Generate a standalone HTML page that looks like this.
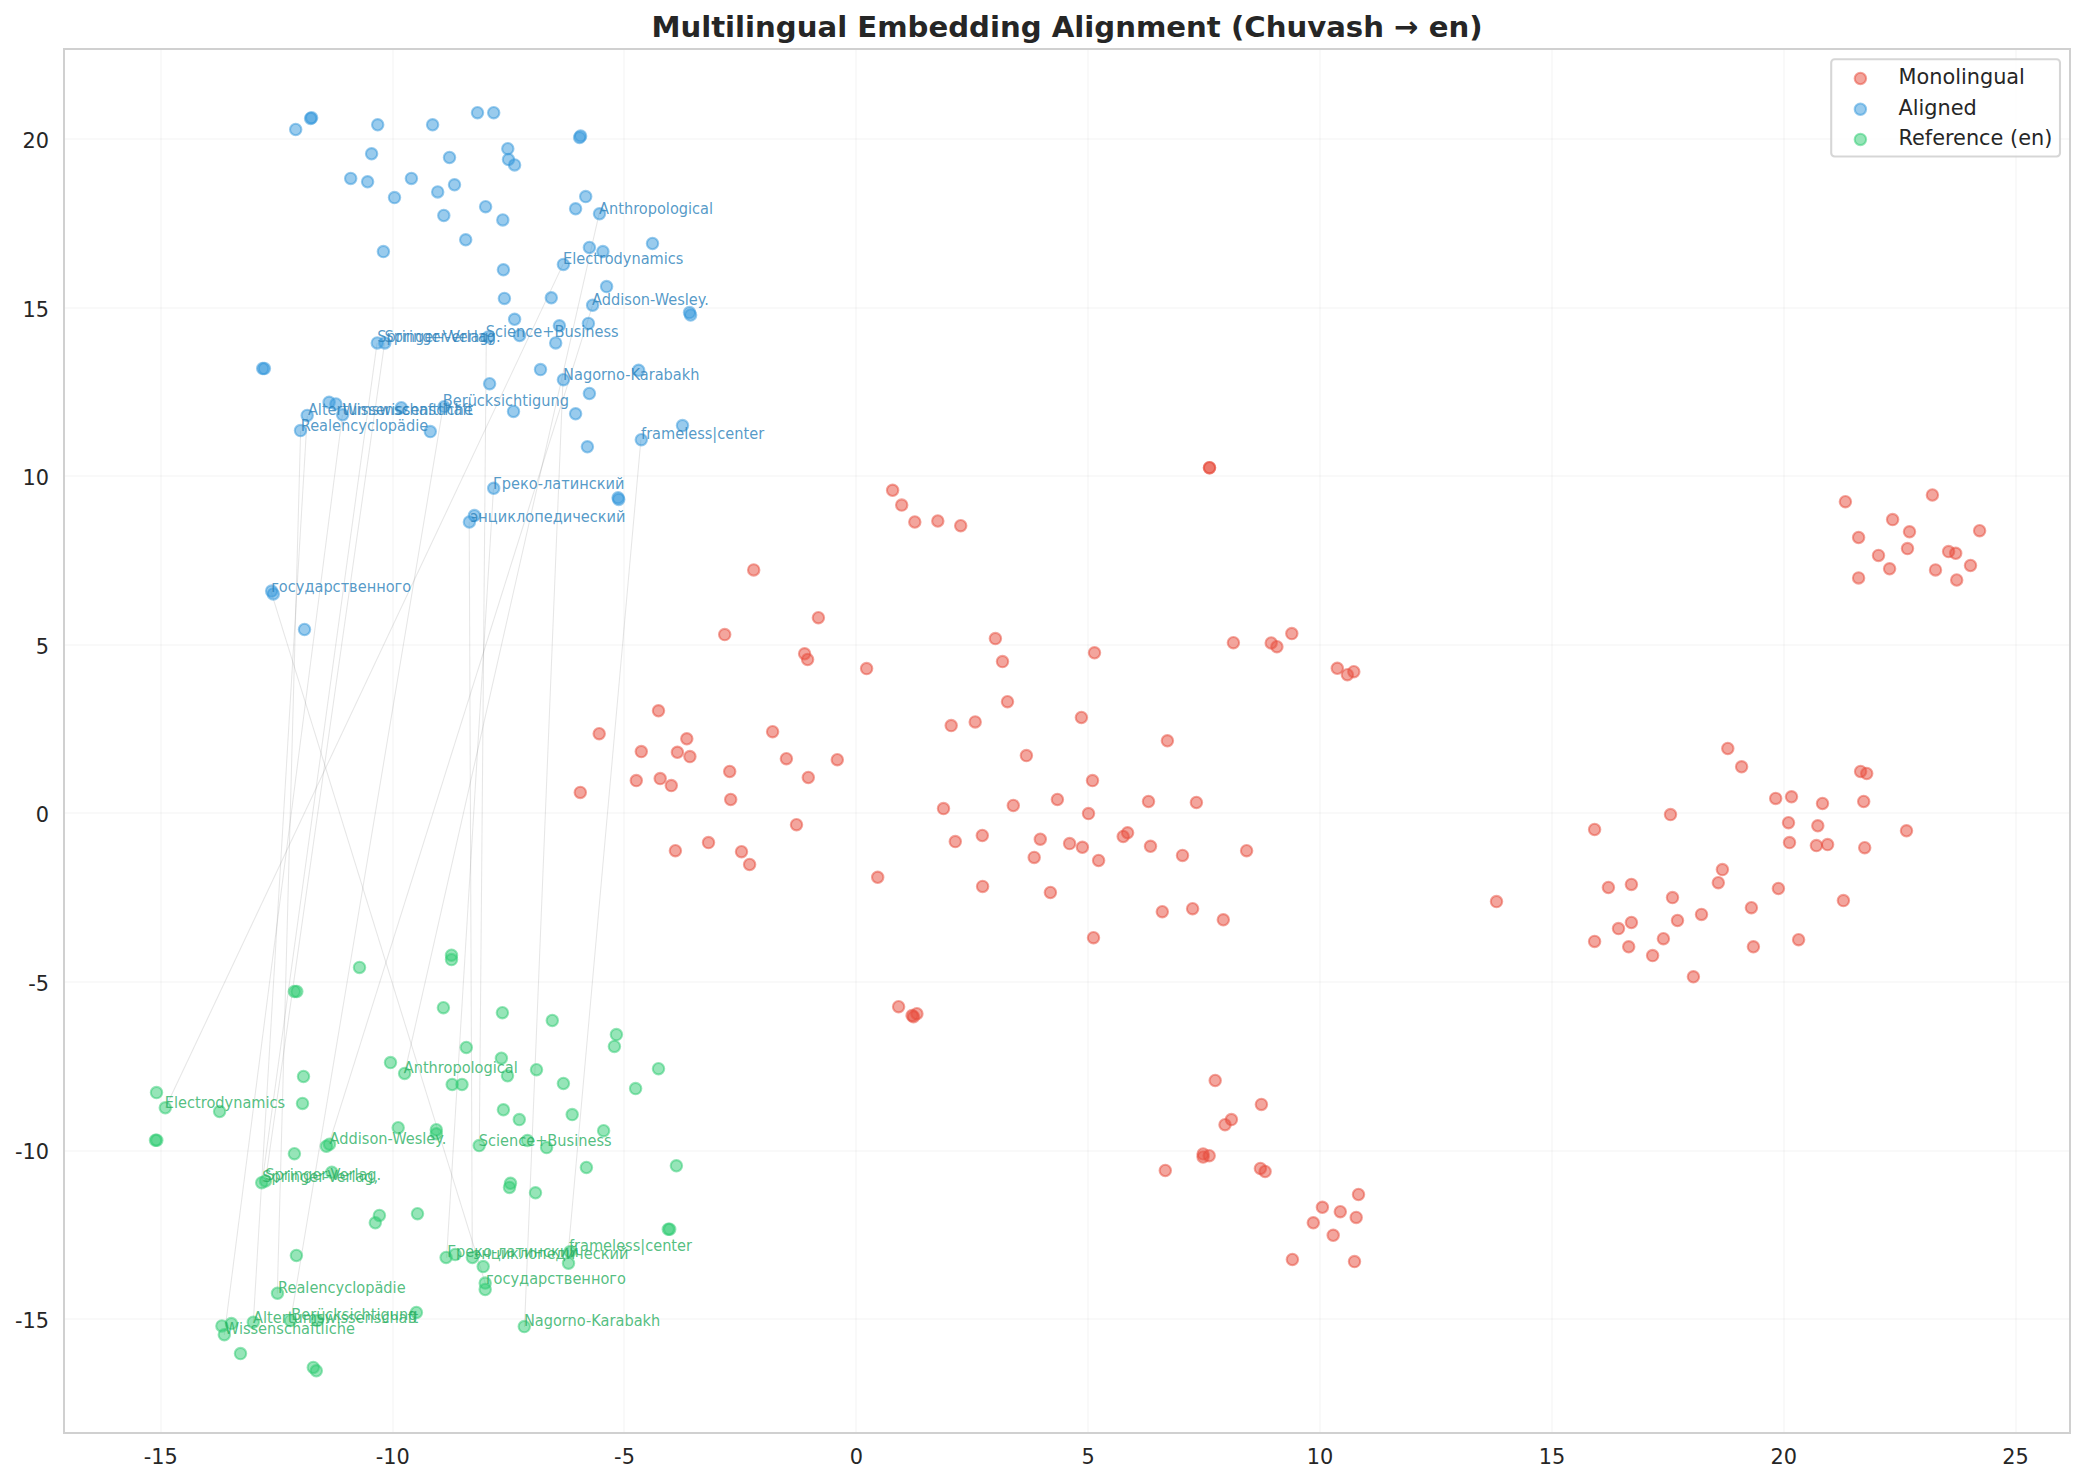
<!DOCTYPE html>
<html><head><meta charset="utf-8"><title>Multilingual Embedding Alignment</title>
<style>html,body{margin:0;padding:0;background:#fff}body{width:2085px;height:1483px;overflow:hidden}</style></head>
<body>
<svg width="2085" height="1483" viewBox="0 0 2085 1483" style="display:block;font-family:'DejaVu Sans','Liberation Sans',sans-serif">
<rect width="2085" height="1483" fill="#fff"/>
<g stroke="#cccccc" stroke-opacity=".11" stroke-width="2">
<line x1="161" y1="49.0" x2="161" y2="1433.0"/>
<line x1="393" y1="49.0" x2="393" y2="1433.0"/>
<line x1="624" y1="49.0" x2="624" y2="1433.0"/>
<line x1="856" y1="49.0" x2="856" y2="1433.0"/>
<line x1="1088" y1="49.0" x2="1088" y2="1433.0"/>
<line x1="1320" y1="49.0" x2="1320" y2="1433.0"/>
<line x1="1552" y1="49.0" x2="1552" y2="1433.0"/>
<line x1="1784" y1="49.0" x2="1784" y2="1433.0"/>
<line x1="2016" y1="49.0" x2="2016" y2="1433.0"/>
<line x1="64.0" y1="139" x2="2070.0" y2="139"/>
<line x1="64.0" y1="308" x2="2070.0" y2="308"/>
<line x1="64.0" y1="476" x2="2070.0" y2="476"/>
<line x1="64.0" y1="645" x2="2070.0" y2="645"/>
<line x1="64.0" y1="813" x2="2070.0" y2="813"/>
<line x1="64.0" y1="982" x2="2070.0" y2="982"/>
<line x1="64.0" y1="1151" x2="2070.0" y2="1151"/>
<line x1="64.0" y1="1319" x2="2070.0" y2="1319"/>
</g>
<g stroke="#808080" stroke-opacity="0.2" stroke-width="1.04" fill="none">
<line x1="599.1" y1="213.8" x2="404.4" y2="1073.9"/>
<line x1="563.0" y1="264.4" x2="165.5" y2="1107.8"/>
<line x1="592.4" y1="305.9" x2="328.8" y2="1144.3"/>
<line x1="486.3" y1="337.8" x2="479.3" y2="1145.9"/>
<line x1="377.1" y1="342.9" x2="262.1" y2="1182.7"/>
<line x1="384.6" y1="342.9" x2="265.4" y2="1181.3"/>
<line x1="563.0" y1="379.7" x2="524.5" y2="1326.9"/>
<line x1="443.1" y1="406.7" x2="290.6" y2="1320.7"/>
<line x1="307.3" y1="415.7" x2="253.3" y2="1322.5"/>
<line x1="342.4" y1="415.0" x2="224.3" y2="1335.0"/>
<line x1="300.6" y1="430.8" x2="277.3" y2="1293.6"/>
<line x1="640.9" y1="439.7" x2="568.4" y2="1250.3"/>
<line x1="493.5" y1="488.6" x2="446.6" y2="1257.9"/>
<line x1="469.2" y1="521.8" x2="472.3" y2="1258.4"/>
<line x1="270.9" y1="591.2" x2="485.4" y2="1283.6"/>
</g>
<g fill="#e74c3c" fill-opacity=".5" stroke="#e74c3c" stroke-opacity=".5" stroke-width="2.08">
<circle cx="658.5" cy="710.8" r="5.7"/>
<circle cx="599.2" cy="733.7" r="5.7"/>
<circle cx="686.8" cy="738.8" r="5.7"/>
<circle cx="641.3" cy="751.6" r="5.7"/>
<circle cx="677.4" cy="752.3" r="5.7"/>
<circle cx="689.9" cy="756.6" r="5.7"/>
<circle cx="636.3" cy="780.6" r="5.7"/>
<circle cx="660.2" cy="778.6" r="5.7"/>
<circle cx="671.3" cy="785.6" r="5.7"/>
<circle cx="580.3" cy="792.4" r="5.7"/>
<circle cx="675.4" cy="850.7" r="5.7"/>
<circle cx="1209.5" cy="467.7" r="5.7"/>
<circle cx="1209.5" cy="467.7" r="5.7"/>
<circle cx="892.6" cy="490.3" r="5.7"/>
<circle cx="901.7" cy="505.1" r="5.7"/>
<circle cx="914.8" cy="522.0" r="5.7"/>
<circle cx="937.8" cy="521.0" r="5.7"/>
<circle cx="960.7" cy="525.7" r="5.7"/>
<circle cx="753.7" cy="569.9" r="5.7"/>
<circle cx="818.4" cy="617.7" r="5.7"/>
<circle cx="724.7" cy="634.6" r="5.7"/>
<circle cx="804.6" cy="653.8" r="5.7"/>
<circle cx="807.6" cy="659.5" r="5.7"/>
<circle cx="866.6" cy="668.6" r="5.7"/>
<circle cx="995.4" cy="638.6" r="5.7"/>
<circle cx="1002.5" cy="661.6" r="5.7"/>
<circle cx="1094.5" cy="652.8" r="5.7"/>
<circle cx="1233.4" cy="642.7" r="5.7"/>
<circle cx="1271.2" cy="643.0" r="5.7"/>
<circle cx="1276.9" cy="646.7" r="5.7"/>
<circle cx="1291.8" cy="633.6" r="5.7"/>
<circle cx="1337.3" cy="668.3" r="5.7"/>
<circle cx="1347.4" cy="674.7" r="5.7"/>
<circle cx="1353.8" cy="671.7" r="5.7"/>
<circle cx="1007.5" cy="701.7" r="5.7"/>
<circle cx="1081.4" cy="717.5" r="5.7"/>
<circle cx="975.2" cy="721.9" r="5.7"/>
<circle cx="951.2" cy="725.6" r="5.7"/>
<circle cx="772.6" cy="731.7" r="5.7"/>
<circle cx="1167.4" cy="740.8" r="5.7"/>
<circle cx="1026.4" cy="755.6" r="5.7"/>
<circle cx="786.4" cy="758.7" r="5.7"/>
<circle cx="837.3" cy="759.7" r="5.7"/>
<circle cx="729.7" cy="771.5" r="5.7"/>
<circle cx="808.3" cy="777.5" r="5.7"/>
<circle cx="1092.5" cy="780.6" r="5.7"/>
<circle cx="730.7" cy="799.5" r="5.7"/>
<circle cx="1057.4" cy="799.5" r="5.7"/>
<circle cx="1148.5" cy="801.5" r="5.7"/>
<circle cx="1196.4" cy="802.5" r="5.7"/>
<circle cx="1013.3" cy="805.5" r="5.7"/>
<circle cx="943.5" cy="808.6" r="5.7"/>
<circle cx="1088.5" cy="813.6" r="5.7"/>
<circle cx="796.5" cy="824.7" r="5.7"/>
<circle cx="1127.6" cy="832.8" r="5.7"/>
<circle cx="1123.2" cy="836.5" r="5.7"/>
<circle cx="982.3" cy="835.5" r="5.7"/>
<circle cx="1040.3" cy="839.2" r="5.7"/>
<circle cx="955.3" cy="841.6" r="5.7"/>
<circle cx="708.5" cy="842.6" r="5.7"/>
<circle cx="1069.6" cy="843.6" r="5.7"/>
<circle cx="1082.4" cy="847.3" r="5.7"/>
<circle cx="1150.5" cy="846.3" r="5.7"/>
<circle cx="741.5" cy="851.7" r="5.7"/>
<circle cx="1246.6" cy="850.7" r="5.7"/>
<circle cx="1182.5" cy="855.4" r="5.7"/>
<circle cx="1034.2" cy="857.4" r="5.7"/>
<circle cx="1098.6" cy="860.5" r="5.7"/>
<circle cx="749.6" cy="864.5" r="5.7"/>
<circle cx="877.7" cy="877.3" r="5.7"/>
<circle cx="982.6" cy="886.4" r="5.7"/>
<circle cx="1050.4" cy="892.5" r="5.7"/>
<circle cx="1162.3" cy="911.7" r="5.7"/>
<circle cx="1192.6" cy="908.7" r="5.7"/>
<circle cx="1223.3" cy="919.8" r="5.7"/>
<circle cx="1093.5" cy="937.7" r="5.7"/>
<circle cx="1845.4" cy="501.7" r="5.7"/>
<circle cx="1932.4" cy="495.0" r="5.7"/>
<circle cx="1892.6" cy="519.6" r="5.7"/>
<circle cx="1909.5" cy="531.8" r="5.7"/>
<circle cx="1979.6" cy="530.7" r="5.7"/>
<circle cx="1858.6" cy="537.5" r="5.7"/>
<circle cx="1907.5" cy="548.6" r="5.7"/>
<circle cx="1878.5" cy="555.4" r="5.7"/>
<circle cx="1948.6" cy="551.6" r="5.7"/>
<circle cx="1955.7" cy="553.3" r="5.7"/>
<circle cx="1970.5" cy="565.5" r="5.7"/>
<circle cx="1889.6" cy="568.8" r="5.7"/>
<circle cx="1935.5" cy="569.9" r="5.7"/>
<circle cx="1858.6" cy="577.9" r="5.7"/>
<circle cx="1956.7" cy="580.0" r="5.7"/>
<circle cx="1727.8" cy="748.5" r="5.7"/>
<circle cx="1741.6" cy="766.8" r="5.7"/>
<circle cx="1860.6" cy="771.5" r="5.7"/>
<circle cx="1866.7" cy="773.5" r="5.7"/>
<circle cx="1775.7" cy="798.4" r="5.7"/>
<circle cx="1791.5" cy="796.8" r="5.7"/>
<circle cx="1822.5" cy="803.5" r="5.7"/>
<circle cx="1863.7" cy="801.5" r="5.7"/>
<circle cx="1670.5" cy="814.6" r="5.7"/>
<circle cx="1594.6" cy="829.5" r="5.7"/>
<circle cx="1788.5" cy="822.7" r="5.7"/>
<circle cx="1817.8" cy="825.8" r="5.7"/>
<circle cx="1906.5" cy="830.8" r="5.7"/>
<circle cx="1789.5" cy="842.6" r="5.7"/>
<circle cx="1816.4" cy="845.6" r="5.7"/>
<circle cx="1827.6" cy="844.6" r="5.7"/>
<circle cx="1864.7" cy="847.7" r="5.7"/>
<circle cx="1722.4" cy="869.6" r="5.7"/>
<circle cx="1718.3" cy="882.7" r="5.7"/>
<circle cx="1608.4" cy="887.5" r="5.7"/>
<circle cx="1631.4" cy="884.4" r="5.7"/>
<circle cx="1778.4" cy="888.5" r="5.7"/>
<circle cx="1672.5" cy="897.6" r="5.7"/>
<circle cx="1496.5" cy="901.6" r="5.7"/>
<circle cx="1843.4" cy="900.6" r="5.7"/>
<circle cx="1751.4" cy="907.7" r="5.7"/>
<circle cx="1701.5" cy="914.4" r="5.7"/>
<circle cx="1677.5" cy="920.5" r="5.7"/>
<circle cx="1631.4" cy="922.5" r="5.7"/>
<circle cx="1618.5" cy="928.6" r="5.7"/>
<circle cx="1663.4" cy="938.7" r="5.7"/>
<circle cx="1594.6" cy="941.4" r="5.7"/>
<circle cx="1798.6" cy="939.7" r="5.7"/>
<circle cx="1628.7" cy="946.8" r="5.7"/>
<circle cx="1753.4" cy="946.8" r="5.7"/>
<circle cx="1652.6" cy="955.6" r="5.7"/>
<circle cx="1693.4" cy="976.8" r="5.7"/>
<circle cx="898.6" cy="1006.7" r="5.7"/>
<circle cx="912.1" cy="1015.4" r="5.7"/>
<circle cx="913.5" cy="1016.8" r="5.7"/>
<circle cx="916.9" cy="1013.7" r="5.7"/>
<circle cx="1215.2" cy="1080.5" r="5.7"/>
<circle cx="1261.4" cy="1104.4" r="5.7"/>
<circle cx="1231.4" cy="1119.6" r="5.7"/>
<circle cx="1225.0" cy="1124.7" r="5.7"/>
<circle cx="1203.1" cy="1154.0" r="5.7"/>
<circle cx="1203.1" cy="1157.0" r="5.7"/>
<circle cx="1209.2" cy="1155.7" r="5.7"/>
<circle cx="1165.3" cy="1170.5" r="5.7"/>
<circle cx="1260.4" cy="1168.5" r="5.7"/>
<circle cx="1265.1" cy="1171.5" r="5.7"/>
<circle cx="1358.5" cy="1194.5" r="5.7"/>
<circle cx="1322.4" cy="1207.3" r="5.7"/>
<circle cx="1340.3" cy="1211.7" r="5.7"/>
<circle cx="1356.2" cy="1217.4" r="5.7"/>
<circle cx="1313.3" cy="1222.8" r="5.7"/>
<circle cx="1333.2" cy="1235.3" r="5.7"/>
<circle cx="1292.4" cy="1259.5" r="5.7"/>
<circle cx="1354.5" cy="1261.6" r="5.7"/>
</g>
<g fill="#3498db" fill-opacity=".5" stroke="#3498db" stroke-opacity=".5" stroke-width="2.08">
<circle cx="295.7" cy="129.5" r="5.7"/>
<circle cx="310.6" cy="118.4" r="5.7"/>
<circle cx="311.6" cy="117.7" r="5.7"/>
<circle cx="377.7" cy="124.8" r="5.7"/>
<circle cx="432.6" cy="124.8" r="5.7"/>
<circle cx="477.5" cy="112.7" r="5.7"/>
<circle cx="493.7" cy="112.7" r="5.7"/>
<circle cx="579.6" cy="137.6" r="5.7"/>
<circle cx="580.6" cy="135.9" r="5.7"/>
<circle cx="371.6" cy="153.8" r="5.7"/>
<circle cx="449.5" cy="157.5" r="5.7"/>
<circle cx="507.8" cy="148.7" r="5.7"/>
<circle cx="508.5" cy="159.5" r="5.7"/>
<circle cx="514.6" cy="164.9" r="5.7"/>
<circle cx="350.7" cy="178.4" r="5.7"/>
<circle cx="367.6" cy="181.8" r="5.7"/>
<circle cx="411.4" cy="178.4" r="5.7"/>
<circle cx="454.5" cy="184.8" r="5.7"/>
<circle cx="437.7" cy="191.9" r="5.7"/>
<circle cx="394.5" cy="197.6" r="5.7"/>
<circle cx="585.7" cy="196.6" r="5.7"/>
<circle cx="575.6" cy="208.8" r="5.7"/>
<circle cx="599.5" cy="213.8" r="5.7"/>
<circle cx="485.6" cy="206.7" r="5.7"/>
<circle cx="443.8" cy="215.5" r="5.7"/>
<circle cx="502.8" cy="219.9" r="5.7"/>
<circle cx="465.7" cy="239.8" r="5.7"/>
<circle cx="383.4" cy="251.6" r="5.7"/>
<circle cx="589.4" cy="247.5" r="5.7"/>
<circle cx="602.9" cy="251.6" r="5.7"/>
<circle cx="652.5" cy="243.5" r="5.7"/>
<circle cx="563.4" cy="264.4" r="5.7"/>
<circle cx="503.4" cy="269.8" r="5.7"/>
<circle cx="606.6" cy="286.6" r="5.7"/>
<circle cx="504.4" cy="298.4" r="5.7"/>
<circle cx="551.3" cy="297.8" r="5.7"/>
<circle cx="592.6" cy="305.2" r="5.7"/>
<circle cx="689.5" cy="312.6" r="5.7"/>
<circle cx="690.6" cy="315.0" r="5.7"/>
<circle cx="514.6" cy="319.3" r="5.7"/>
<circle cx="559.4" cy="325.8" r="5.7"/>
<circle cx="588.4" cy="323.4" r="5.7"/>
<circle cx="519.6" cy="335.5" r="5.7"/>
<circle cx="488.3" cy="336.9" r="5.7"/>
<circle cx="555.7" cy="342.9" r="5.7"/>
<circle cx="377.3" cy="342.9" r="5.7"/>
<circle cx="384.8" cy="342.9" r="5.7"/>
<circle cx="262.7" cy="368.6" r="5.7"/>
<circle cx="264.4" cy="368.6" r="5.7"/>
<circle cx="540.5" cy="369.6" r="5.7"/>
<circle cx="638.6" cy="370.3" r="5.7"/>
<circle cx="563.4" cy="379.7" r="5.7"/>
<circle cx="489.6" cy="383.7" r="5.7"/>
<circle cx="589.4" cy="393.5" r="5.7"/>
<circle cx="329.1" cy="402.3" r="5.7"/>
<circle cx="335.9" cy="404.0" r="5.7"/>
<circle cx="401.3" cy="407.7" r="5.7"/>
<circle cx="444.1" cy="406.7" r="5.7"/>
<circle cx="307.2" cy="415.4" r="5.7"/>
<circle cx="342.6" cy="414.8" r="5.7"/>
<circle cx="513.5" cy="411.4" r="5.7"/>
<circle cx="575.6" cy="413.8" r="5.7"/>
<circle cx="300.5" cy="430.6" r="5.7"/>
<circle cx="430.3" cy="431.6" r="5.7"/>
<circle cx="682.5" cy="425.6" r="5.7"/>
<circle cx="641.3" cy="439.7" r="5.7"/>
<circle cx="587.4" cy="446.8" r="5.7"/>
<circle cx="493.7" cy="488.3" r="5.7"/>
<circle cx="618.1" cy="497.7" r="5.7"/>
<circle cx="618.7" cy="499.4" r="5.7"/>
<circle cx="474.4" cy="515.6" r="5.7"/>
<circle cx="469.4" cy="522.0" r="5.7"/>
<circle cx="271.6" cy="591.1" r="5.7"/>
<circle cx="273.3" cy="593.9" r="5.7"/>
<circle cx="304.5" cy="629.5" r="5.7"/>
</g>
<g fill="#2ecc71" fill-opacity=".5" stroke="#2ecc71" stroke-opacity=".5" stroke-width="2.08">
<circle cx="451.5" cy="955.2" r="5.7"/>
<circle cx="451.5" cy="959.6" r="5.7"/>
<circle cx="359.5" cy="967.4" r="5.7"/>
<circle cx="294.4" cy="991.5" r="5.7"/>
<circle cx="296.8" cy="991.5" r="5.7"/>
<circle cx="443.4" cy="1007.7" r="5.7"/>
<circle cx="502.4" cy="1012.7" r="5.7"/>
<circle cx="552.3" cy="1020.5" r="5.7"/>
<circle cx="616.4" cy="1034.6" r="5.7"/>
<circle cx="614.4" cy="1046.4" r="5.7"/>
<circle cx="466.3" cy="1047.5" r="5.7"/>
<circle cx="501.4" cy="1058.2" r="5.7"/>
<circle cx="390.5" cy="1062.6" r="5.7"/>
<circle cx="658.5" cy="1068.7" r="5.7"/>
<circle cx="536.5" cy="1069.7" r="5.7"/>
<circle cx="404.6" cy="1073.4" r="5.7"/>
<circle cx="507.5" cy="1075.8" r="5.7"/>
<circle cx="303.5" cy="1076.5" r="5.7"/>
<circle cx="452.2" cy="1084.5" r="5.7"/>
<circle cx="462.0" cy="1084.5" r="5.7"/>
<circle cx="563.4" cy="1083.5" r="5.7"/>
<circle cx="635.6" cy="1088.6" r="5.7"/>
<circle cx="156.5" cy="1092.6" r="5.7"/>
<circle cx="302.5" cy="1103.4" r="5.7"/>
<circle cx="165.3" cy="1107.8" r="5.7"/>
<circle cx="219.6" cy="1111.5" r="5.7"/>
<circle cx="503.4" cy="1109.8" r="5.7"/>
<circle cx="572.2" cy="1114.6" r="5.7"/>
<circle cx="519.3" cy="1119.6" r="5.7"/>
<circle cx="398.2" cy="1127.7" r="5.7"/>
<circle cx="436.3" cy="1129.7" r="5.7"/>
<circle cx="436.3" cy="1133.8" r="5.7"/>
<circle cx="603.6" cy="1130.7" r="5.7"/>
<circle cx="155.5" cy="1140.2" r="5.7"/>
<circle cx="156.8" cy="1140.2" r="5.7"/>
<circle cx="527.4" cy="1140.5" r="5.7"/>
<circle cx="326.4" cy="1146.2" r="5.7"/>
<circle cx="329.5" cy="1144.2" r="5.7"/>
<circle cx="479.2" cy="1145.6" r="5.7"/>
<circle cx="546.6" cy="1147.6" r="5.7"/>
<circle cx="294.4" cy="1153.7" r="5.7"/>
<circle cx="586.4" cy="1167.5" r="5.7"/>
<circle cx="676.4" cy="1165.8" r="5.7"/>
<circle cx="331.8" cy="1172.2" r="5.7"/>
<circle cx="265.4" cy="1181.0" r="5.7"/>
<circle cx="261.7" cy="1182.7" r="5.7"/>
<circle cx="510.5" cy="1183.3" r="5.7"/>
<circle cx="509.5" cy="1187.4" r="5.7"/>
<circle cx="535.5" cy="1192.8" r="5.7"/>
<circle cx="379.4" cy="1215.4" r="5.7"/>
<circle cx="375.3" cy="1222.8" r="5.7"/>
<circle cx="417.5" cy="1213.7" r="5.7"/>
<circle cx="668.3" cy="1229.2" r="5.7"/>
<circle cx="669.7" cy="1229.2" r="5.7"/>
<circle cx="569.9" cy="1251.8" r="5.7"/>
<circle cx="455.2" cy="1254.5" r="5.7"/>
<circle cx="446.1" cy="1257.5" r="5.7"/>
<circle cx="472.4" cy="1257.5" r="5.7"/>
<circle cx="296.4" cy="1255.5" r="5.7"/>
<circle cx="568.5" cy="1263.2" r="5.7"/>
<circle cx="483.2" cy="1266.6" r="5.7"/>
<circle cx="485.2" cy="1283.1" r="5.7"/>
<circle cx="485.2" cy="1289.5" r="5.7"/>
<circle cx="277.5" cy="1293.2" r="5.7"/>
<circle cx="416.4" cy="1312.5" r="5.7"/>
<circle cx="231.4" cy="1323.6" r="5.7"/>
<circle cx="221.9" cy="1325.9" r="5.7"/>
<circle cx="253.3" cy="1322.2" r="5.7"/>
<circle cx="290.4" cy="1320.6" r="5.7"/>
<circle cx="317.3" cy="1320.6" r="5.7"/>
<circle cx="224.3" cy="1334.7" r="5.7"/>
<circle cx="524.3" cy="1326.6" r="5.7"/>
<circle cx="240.5" cy="1353.6" r="5.7"/>
<circle cx="313.3" cy="1367.4" r="5.7"/>
<circle cx="316.3" cy="1370.8" r="5.7"/>
</g>
<g fill="#2980b9" fill-opacity=".8" font-size="14.58px">
<text transform="translate(599.0 213.7) scale(1 1.125)">Anthropological</text>
<text transform="translate(563.1 264.3) scale(1 1.125)">Electrodynamics</text>
<text transform="translate(592.1 305.0) scale(1 1.125)">Addison-Wesley.</text>
<text transform="translate(485.8 336.8) scale(1 1.125)">Science+Business</text>
<text transform="translate(377.2 341.9) scale(1 1.125)">Springer-Verlag,</text>
<text transform="translate(384.5 341.9) scale(1 1.125)">Springer-Verlag.</text>
<text transform="translate(563.1 379.9) scale(1 1.125)">Nagorno-Karabakh</text>
<text transform="translate(442.7 405.8) scale(1 1.125)">Berücksichtigung</text>
<text transform="translate(307.9 414.8) scale(1 1.125)">Altertumswissenschaft</text>
<text transform="translate(342.5 414.6) scale(1 1.125)">Wissenschaftliche</text>
<text transform="translate(300.7 430.9) scale(1 1.125)">Realencyclopädie</text>
<text transform="translate(641.0 438.8) scale(1 1.125)">frameless|center</text>
<text transform="translate(492.9 488.8) scale(1 1.125)">Греко-латинский</text>
<text transform="translate(470.3 522.0) scale(1 1.125)">энциклопедический</text>
<text transform="translate(271.2 592.3) scale(1 1.125)">государственного</text>
</g>
<g fill="#27ae60" fill-opacity=".8" font-size="14.58px">
<text transform="translate(403.7 1073.1) scale(1 1.125)">Anthropological</text>
<text transform="translate(164.8 1108.0) scale(1 1.125)">Electrodynamics</text>
<text transform="translate(329.6 1143.5) scale(1 1.125)">Addison-Wesley.</text>
<text transform="translate(478.7 1146.1) scale(1 1.125)">Science+Business</text>
<text transform="translate(262.2 1181.9) scale(1 1.125)">Springer-Verlag,</text>
<text transform="translate(265.2 1179.5) scale(1 1.125)">Springer-Verlag.</text>
<text transform="translate(523.9 1326.1) scale(1 1.125)">Nagorno-Karabakh</text>
<text transform="translate(291.2 1319.9) scale(1 1.125)">Berücksichtigung</text>
<text transform="translate(253.1 1322.5) scale(1 1.125)">Altertumswissenschaft</text>
<text transform="translate(224.8 1334.2) scale(1 1.125)">Wissenschaftliche</text>
<text transform="translate(278.0 1292.9) scale(1 1.125)">Realencyclopädie</text>
<text transform="translate(568.9 1250.5) scale(1 1.125)">frameless|center</text>
<text transform="translate(447.2 1257.2) scale(1 1.125)">Греко-латинский</text>
<text transform="translate(473.2 1259.1) scale(1 1.125)">энциклопедический</text>
<text transform="translate(485.9 1284.0) scale(1 1.125)">государственного</text>
</g>
<rect x="64.0" y="49.0" width="2006.0" height="1384.0" fill="none" stroke="#d0d0d0" stroke-width="2"/>
<g fill="#262626" font-size="20.83px">
<text x="160.8" y="1464" text-anchor="middle">-15</text>
<text x="392.65" y="1464" text-anchor="middle">-10</text>
<text x="624.5" y="1464" text-anchor="middle">-5</text>
<text x="856.35" y="1464" text-anchor="middle">0</text>
<text x="1088.2" y="1464" text-anchor="middle">5</text>
<text x="1320.05" y="1464" text-anchor="middle">10</text>
<text x="1551.9" y="1464" text-anchor="middle">15</text>
<text x="1783.75" y="1464" text-anchor="middle">20</text>
<text x="2015.6" y="1464" text-anchor="middle">25</text>
<text x="49.0" y="148.0" text-anchor="end">20</text>
<text x="49.0" y="316.57" text-anchor="end">15</text>
<text x="49.0" y="485.14" text-anchor="end">10</text>
<text x="49.0" y="653.71" text-anchor="end">5</text>
<text x="49.0" y="822.28" text-anchor="end">0</text>
<text x="49.0" y="990.86" text-anchor="end">-5</text>
<text x="49.0" y="1159.43" text-anchor="end">-10</text>
<text x="49.0" y="1328.0" text-anchor="end">-15</text>
</g>
<text x="1067.0" y="37" text-anchor="middle" font-size="29.17px" font-weight="bold" fill="#262626">Multilingual Embedding Alignment (Chuvash → en)</text>
<rect x="1831.2" y="59.2" width="228.8" height="97.3" rx="3.5" ry="3.5" fill="#fff" fill-opacity=".8" stroke="#cccccc" stroke-opacity=".8" stroke-width="2.08"/>
<circle cx="1860.4" cy="78.5" r="5.7" fill="#e74c3c" fill-opacity=".5" stroke="#e74c3c" stroke-opacity=".5" stroke-width="2.08"/>
<text x="1898.5" y="84.1" font-size="20.83px" fill="#262626">Monolingual</text>
<circle cx="1860.4" cy="109.2" r="5.7" fill="#3498db" fill-opacity=".5" stroke="#3498db" stroke-opacity=".5" stroke-width="2.08"/>
<text x="1898.5" y="114.8" font-size="20.83px" fill="#262626">Aligned</text>
<circle cx="1860.4" cy="139.4" r="5.7" fill="#2ecc71" fill-opacity=".5" stroke="#2ecc71" stroke-opacity=".5" stroke-width="2.08"/>
<text x="1898.5" y="145.0" font-size="20.83px" fill="#262626">Reference (en)</text>
</svg>
</body></html>
